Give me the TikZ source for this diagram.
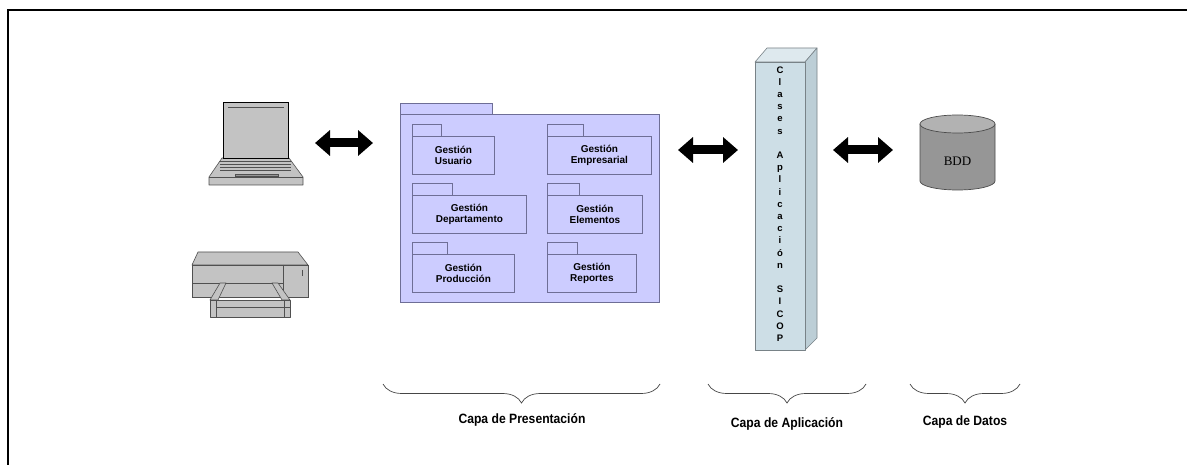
\documentclass[tikz,border=0pt]{standalone}
\usepackage{fontspec}
\setmainfont{Liberation Sans}
\newfontfamily\dbfont{Liberation Serif}
\usetikzlibrary{arrows.meta,decorations.pathreplacing,calc}
\definecolor{pkgfill}{RGB}{204,204,255}
\definecolor{pkgline}{RGB}{110,110,150}
\definecolor{colfront}{RGB}{205,222,230}
\definecolor{coltop}{RGB}{222,233,238}
\definecolor{colside}{RGB}{188,206,214}
\definecolor{colline}{RGB}{120,130,135}
\definecolor{devfill}{RGB}{195,195,195}
\definecolor{devdark}{RGB}{150,150,150}
\definecolor{devline}{RGB}{80,80,80}
\definecolor{dbfill}{RGB}{150,150,150}
\definecolor{dbtop}{RGB}{178,178,178}
\definecolor{bracecol}{RGB}{70,70,70}
\newcommand{\narrowtext}[1]{\scalebox{0.9}[1]{#1}}

\begin{document}
\begin{tikzpicture}[x=1pt,y=-1pt,
  bigpkg/.style={draw=pkgline, fill=pkgfill, line width=0.9pt, inner sep=0pt, anchor=north west},
  pkg/.style={draw=pkgline, fill=pkgfill, line width=0.8pt, inner sep=0pt, anchor=north west,
    minimum height=38pt, align=center, font=\bfseries\fontsize{10}{11.5}\selectfont},
  pkgtab/.style={draw=pkgline, fill=pkgfill, line width=0.8pt},
  dev/.style={draw=devline, fill=devfill, line width=0.6pt, line join=round},
  dblarrow/.style={line width=9pt, {Triangle[length=15pt,width=25pt]}-{Triangle[length=15pt,width=25pt]}},
  bracestyle/.style={draw=bracecol, line width=0.7pt,
    decorate, decoration={brace, mirror, amplitude=19pt}},
  layerlabel/.style={font=\bfseries\fontsize{13.5}{15}\selectfont, anchor=center},
  colface/.style={draw=colline, line width=0.6pt, line join=round}]

\useasboundingbox (0,0) rectangle (1187,465);
\fill[white] (0,0) rectangle (1187,465);

% outer frame
\draw[line width=2pt] (8,465) -- (8,10) -- (1187,10);

% ---------- laptop ----------
\draw[dev] (222,158) -- (289,158) -- (303,177) -- (303,185) -- (209,185) -- (209,177) -- cycle;
\draw[dev] (209,177) -- (303,177);
\foreach \yy in {161,164,167,170} \draw[devline, line width=0.5pt] (220,\yy) -- (291,\yy);
\draw[devline, fill=devdark, line width=0.5pt] (235,174) rectangle (278,176);
\node[draw=black, fill=devfill, line width=0.8pt, inner sep=0pt, anchor=north west,
  minimum width=65pt, minimum height=56pt] (laptop) at (223,102) {};
\draw[devline, line width=0.8pt] (228,107) -- (284,107);

% ---------- printer ----------
\draw[dev] (198,252) -- (298,252) -- (308,265) -- (192,265) -- cycle;
\node[draw=devline, fill=devfill, line width=0.6pt, inner sep=0pt, anchor=north west,
  minimum width=116pt, minimum height=32pt] (printer) at (192,265) {};
\draw[devline, line width=0.5pt] (283,265) -- (283,297);
\draw[devline, line width=0.5pt] (192,283) -- (283,283);
\draw[devline, line width=0.6pt] (302,270) -- (302,276);
\draw[dev] (210,300) rectangle (290,317);
\draw[devline, line width=0.5pt] (216,307) -- (290,307);
\draw[dev] (220,283) -- (226,283) -- (218,300) -- (210,300) -- cycle;
\draw[dev] (272,283) -- (278,283) -- (290,300) -- (282,300) -- cycle;
\draw[devline, line width=0.5pt] (216,300) -- (216,317);
\draw[devline, line width=0.5pt] (284,300) -- (284,317);

% ---------- presentation package ----------
\draw[pkgtab] (400,114) rectangle (492,103);
\node[bigpkg, minimum width=259pt, minimum height=188pt] (pres) at (400,114) {};

\node[pkg, minimum width=82pt]  (usr)  at (412,136) {Gestión\\Usuario};
\node[pkg, minimum width=104pt] (emp)  at (547,136) {Gestión\\Empresarial};
\node[pkg, minimum width=114pt] (dep)  at (412,195) {Gestión\\Departamento};
\node[pkg, minimum width=95pt]  (ele)  at (547,195) {Gestión\\Elementos};
\node[pkg, minimum width=102pt] (prod) at (412,254) {Gestión\\Producción};
\node[pkg, minimum width=89pt]  (rep)  at (547,254) {Gestión\\Reportes};

\draw[pkgtab] (usr.north west)  rectangle ++(29,-12);
\draw[pkgtab] (emp.north west)  rectangle ++(36,-12);
\draw[pkgtab] (dep.north west)  rectangle ++(40,-12);
\draw[pkgtab] (ele.north west)  rectangle ++(32,-12);
\draw[pkgtab] (prod.north west) rectangle ++(35,-12);
\draw[pkgtab] (rep.north west)  rectangle ++(30,-12);

% ---------- application column ----------
\draw[colface, fill=coltop] (755,62) -- (767,48) -- (817,48) -- (805,62) -- cycle;
\draw[colface, fill=colside] (805,62) -- (817,48) -- (817,338) -- (805,350) -- cycle;
\node[colface, fill=colfront, inner sep=0pt, anchor=north west,
  minimum width=50pt, minimum height=288pt] (clases) at (755,62) {};
\node[align=center, font=\bfseries\fontsize{9.5}{12.2}\selectfont, anchor=north] (clasestxt) at (780,63)
  {C\\l\\a\\s\\e\\s\\[12.2pt]A\\p\\l\\i\\c\\a\\c\\i\\ó\\n\\[12.2pt]S\\I\\C\\O\\P};

% ---------- database ----------
\draw[draw=black!70, fill=dbfill, line width=0.7pt]
  (920,124) -- (920,181) arc[start angle=180, end angle=360, x radius=37.5pt, y radius=9pt]
  -- (995,124);
\draw[draw=black!70, fill=dbtop, line width=0.7pt] (957.5,124) ellipse[x radius=37.5pt, y radius=9pt];
\node[font=\dbfont\fontsize{13}{15}\selectfont] (bdd) at (957.5,161) {BDD};

% ---------- double arrows ----------
\coordinate (a1l) at (315,143); \coordinate (a1r) at (373,143);
\coordinate (a2l) at (678,150); \coordinate (a2r) at (738,150);
\coordinate (a3l) at (833,150); \coordinate (a3r) at (893,150);
\draw[dblarrow] (a1l) -- (a1r);
\draw[dblarrow] (a2l) -- (a2r);
\draw[dblarrow] (a3l) -- (a3r);

% ---------- layer braces ----------
\coordinate (b1l) at (383,384); \coordinate (b1r) at (660,384);
\coordinate (b2l) at (708,384); \coordinate (b2r) at (866,384);
\coordinate (b3l) at (910,384); \coordinate (b3r) at (1020,384);
\draw[bracestyle] (b1l) -- (b1r);
\draw[bracestyle] (b2l) -- (b2r);
\draw[bracestyle] (b3l) -- (b3r);

\node[layerlabel] (lpres) at (522,420) {\narrowtext{Capa de Presentación}};
\node[layerlabel] (lapp)  at (787,424) {\narrowtext{Capa de Aplicación}};
\node[layerlabel] (ldat)  at (965,422) {\narrowtext{Capa de Datos}};
\end{tikzpicture}
\end{document}
